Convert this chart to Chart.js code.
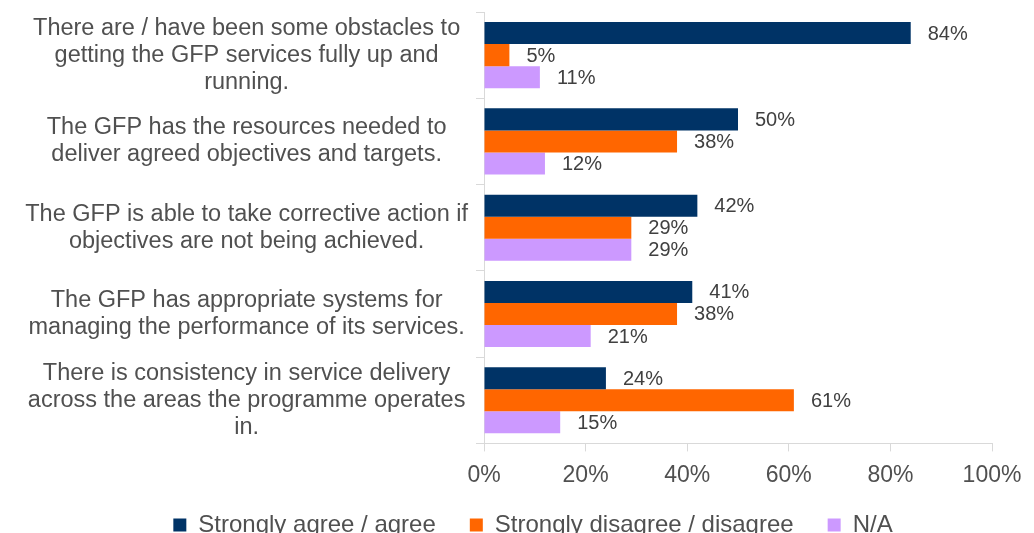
<!DOCTYPE html>
<html>
<head>
<meta charset="utf-8">
<script src="https://cdn.jsdelivr.net/npm/chart.js@4"></script>
<style>
  html, body { margin: 0; padding: 0; background: #fff; }
  #wrap { width: 1034px; height: 533px; position: relative; }
</style>
</head>
<body>
<div id="wrap"><canvas id="c"></canvas></div>
<script>
const statements = [
  ['There are / have been some obstacles to', 'getting the GFP services fully up and', 'running.'],
  ['The GFP has the resources needed to', 'deliver agreed objectives and targets.'],
  ['The GFP is able to take corrective action if', 'objectives are not being achieved.'],
  ['The GFP has appropriate systems for', 'managing the performance of its services.'],
  ['There is consistency in service delivery', 'across the areas the programme operates', 'in.']
];
const agree = [84, 50, 42, 41, 24];
const disagree = [5, 38, 29, 38, 61];
const notApplicable = [11, 12, 29, 21, 15];
const seriesNames = ['Strongly agree / agree', 'Strongly disagree / disagree', 'N/A'];

const textColor = '#505050';
const axisColor = '#d9d9d9';
Chart.defaults.font.family = '"Liberation Sans", Arial, sans-serif';
Chart.defaults.color = textColor;

// value labels just past the end of each bar
const barLabels = {
  id: 'barLabels',
  afterDatasetsDraw(chart) {
    const ctx = chart.ctx;
    ctx.save();
    ctx.font = '20px "Liberation Sans", Arial, sans-serif';
    ctx.fillStyle = '#404040';
    ctx.textAlign = 'left';
    ctx.textBaseline = 'middle';
    chart.data.datasets.forEach((ds, i) => {
      chart.getDatasetMeta(i).data.forEach((bar, j) => {
        ctx.fillText(ds.data[j] + '%', bar.x + 17, bar.y + 1);
      });
    });
    ctx.restore();
  }
};

// the legend sits a bit right of the page centre in the original
const legendShift = {
  id: 'legendShift',
  afterLayout(chart) {
    chart.legend.left += 26;
    chart.legend.right += 26;
  }
};

const defaultLabels = Chart.defaults.plugins.legend.labels.generateLabels;

new Chart(document.getElementById('c'), {
  type: 'bar',
  data: {
    labels: statements,
    datasets: [
      { label: seriesNames[0], data: agree, backgroundColor: '#003366' },
      { label: seriesNames[1], data: disagree, backgroundColor: '#ff6600' },
      { label: seriesNames[2], data: notApplicable, backgroundColor: '#cc99ff' }
    ]
  },
  options: {
    indexAxis: 'y',
    responsive: true, maintainAspectRatio: false,
    animation: false,
    categoryPercentage: 0.766, barPercentage: 1,
    layout: { padding: { left: 0, right: 0, top: 12, bottom: -4 } },
    plugins: {
      tooltip: { enabled: false },
      legend: {
        position: 'bottom',
        maxHeight: 38,
        labels: {
          boxWidth: 13, boxHeight: 13, padding: 14, color: textColor,
          font: { size: 24 },
          // a little extra room between the legend entries
          generateLabels: chart => defaultLabels(chart).map(l => ({ ...l, text: l.text + '   ' }))
        }
      }
    },
    scales: {
      x: {
        min: 0, max: 100,
        afterFit: s => { s.paddingRight = 42; },
        ticks: { stepSize: 20, callback: v => v + '%', font: { size: 23 }, padding: 10, color: textColor },
        grid: { drawOnChartArea: false, color: axisColor, tickLength: 8 },
        border: { color: axisColor }
      },
      y: {
        afterFit: s => { s.width = 484; s.paddingTop = 0; s.paddingBottom = 0; },
        ticks: { autoSkip: false, crossAlign: 'center', font: { size: 23.5, lineHeight: 1.15 },
          color: textColor, padding: 8 },
        grid: { drawOnChartArea: false, color: axisColor, tickLength: 8 },
        border: { color: axisColor }
      }
    }
  },
  plugins: [barLabels, legendShift]
});
</script>
</body>
</html>
